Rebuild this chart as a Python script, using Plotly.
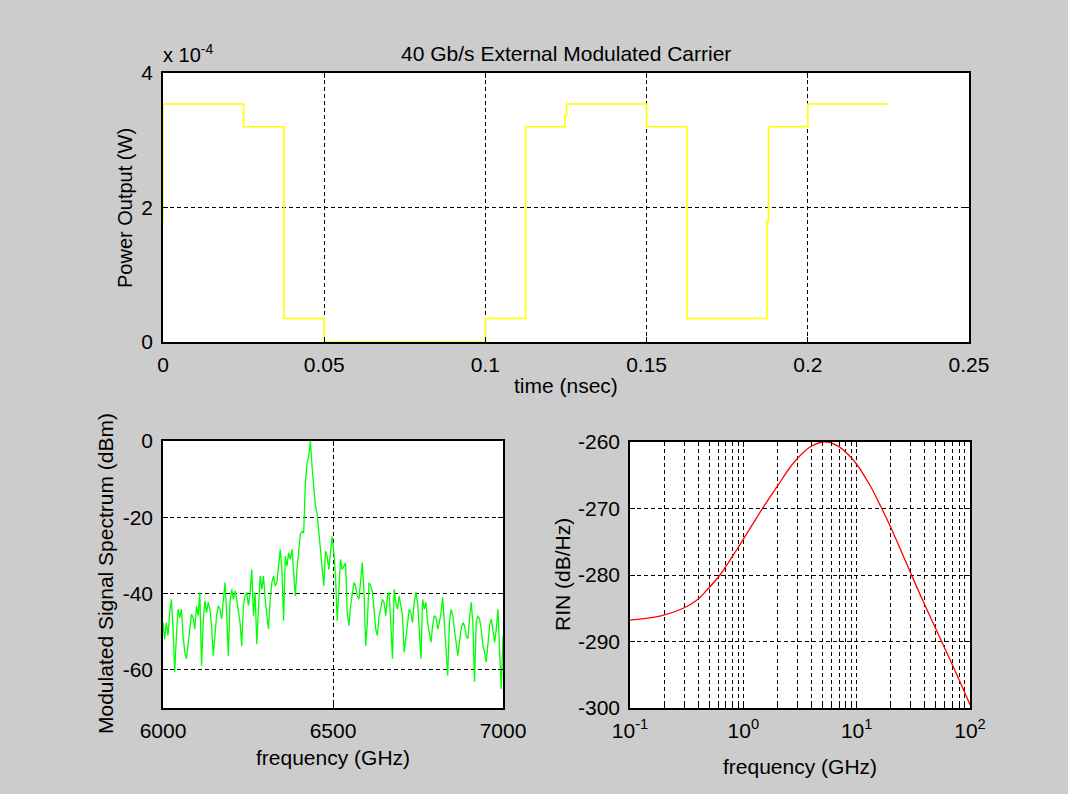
import numpy as np
import plotly.graph_objects as go

W, H = 1078, 803

# ---------------- data ----------------
# top panel: modulated carrier power (stairs), time in ns, power in W
time_ns = [0, 0, 0.025, 0.0375, 0.05, 0.1, 0.1125, 0.1247, 0.1252, 0.15,
           0.1625, 0.1873, 0.1878, 0.2, 0.225]
power_w = [1.77e-4, 3.54e-4, 3.20e-4, 0.35e-4, 0.0, 0.35e-4, 3.20e-4, 3.37e-4,
           3.54e-4, 3.20e-4, 0.35e-4, 1.79e-4, 3.20e-4, 3.54e-4, 3.54e-4]

# bottom-left: modulated signal spectrum (dBm), 6000..7000 GHz
spectrum_dbm = [
    -47.6, -51.9, -47.6, -51.0, -45.0, -41.5, -49.3, -60.6, -51.0, -44.1,
    -46.3, -44.1, -51.0, -55.4, -57.1, -52.8, -49.3, -45.4, -46.3, -49.3,
    -43.2, -45.8, -39.7, -58.9, -47.6, -41.9, -45.0, -42.3, -44.1, -48.4,
    -56.3, -51.0, -45.8, -43.2, -44.1, -46.7, -40.6, -37.1, -45.0, -56.3,
    -42.3, -38.9, -41.5, -39.3, -41.5, -44.1, -47.6, -53.7, -43.2, -40.6,
    -39.7, -43.2, -39.7, -33.7, -45.8, -39.7, -53.2, -44.1, -35.4, -38.9,
    -35.4, -41.5, -45.8, -49.3, -41.5, -37.1, -35.4, -38.0, -37.1, -31.9,
    -28.4, -33.7, -47.1, -30.2, -32.8, -29.3, -31.0, -28.4, -33.7, -40.6,
    -33.7, -28.4, -24.5, -23.7, -24.1, -11.0, -5.8, -4.1, 0.0, -6.7,
    -12.8, -17.1, -18.9, -23.2, -27.6, -33.7, -38.0, -28.9, -30.2, -33.7,
    -29.3,
    -25.0, -29.3, -35.4, -47.1, -39.7, -31.0, -33.7, -32.8, -31.9, -45.0,
    -48.4, -43.2, -40.6, -37.1, -38.0, -40.6, -41.5, -36.3, -31.9, -39.7,
    -53.7, -47.6, -37.1, -38.0, -39.7, -44.1, -49.3, -51.0, -45.8, -44.1,
    -41.5, -42.3, -45.8, -40.6, -39.7, -47.6, -57.1, -38.9, -42.3, -44.1,
    -40.6, -43.2, -45.8, -55.4, -51.0, -48.4, -44.1, -45.0, -47.6, -42.3,
    -39.7,
    -42.3, -51.0, -57.1, -41.5, -44.1, -42.3, -47.6, -50.2, -52.8, -48.4,
    -45.8, -46.3, -49.3, -47.6, -45.0, -41.0, -47.6, -54.5, -61.5, -47.6,
    -44.1, -45.8, -48.9, -52.8, -56.3, -52.8, -49.3, -47.6, -48.4, -51.0,
    -51.9, -46.7, -42.3, -47.6, -63.2, -47.6, -45.8, -46.7, -49.3, -53.7,
    -55.4, -58.0, -52.8, -48.4, -46.7, -49.3, -52.8, -49.3, -44.1, -55.4,
    -65.0, -51.0,
]
spectrum_f_start, spectrum_f_stop = 6000, 7000
spectrum_ghz = np.linspace(spectrum_f_start, spectrum_f_stop, len(spectrum_dbm))

# bottom-right: RIN (dB/Hz) vs frequency (GHz)
rin_ghz = [0.1, 0.184, 0.295, 0.388, 0.475, 0.622, 0.874, 1.225, 1.5, 1.97,
           2.76, 3.85, 5.08, 6.67, 9.34, 13.1, 16.1, 19.7, 29.6, 38.7,
           56.2, 71.2, 100]
rin_db = [-286.8, -286.2, -285.0, -283.8, -282.3, -280.0, -276.2, -272.2,
          -269.8, -266.8, -263.2, -260.8, -260.0, -260.5, -262.7, -266.5,
          -269.5, -272.6, -279.5, -284.0, -290.0, -293.8, -299.5]

top_xticks = [0, 0.05, 0.1, 0.15, 0.2, 0.25]
top_xticktext = ["0", "0.05", "0.1", "0.15", "0.2", "0.25"]
top_yticks = [0, 2e-4, 4e-4]
top_yticktext = ["0", "2", "4"]
spec_xticks = [6000, 6500, 7000]
spec_yticks = [-60, -40, -20, 0]
spec_yticktext = ["-60", "-40", "-20", "0"]
rin_yticks = [-300, -290, -280, -270, -260]
rin_yticktext = ["-300", "-290", "-280", "-270", "-260"]
log_ticks = [0.1, 1, 10, 100]
log_ticktext = ["10<sup>-1</sup>", "10<sup>0</sup>", "10<sup>1</sup>", "10<sup>2</sup>"]
log_minor = [m * d for d in (0.1, 1, 10) for m in range(2, 10)]

# ---------------- figure ----------------
FONT = "Liberation Sans, Arial, sans-serif"
BG = "#cccccc"
TICK_SIZE = 21
DASH = "4px,3px"


def px_x(px):
    return px / W


def px_y(py):
    return 1 - py / H


fig = go.Figure()
fig.add_trace(go.Scatter(x=time_ns, y=power_w, mode="lines", line_shape="hv",
                         line=dict(color="#ffff00", width=1.6),
                         xaxis="x", yaxis="y", showlegend=False))
fig.add_trace(go.Scatter(x=spectrum_ghz, y=spectrum_dbm, mode="lines",
                         line=dict(color="#00ff00", width=1.3),
                         xaxis="x2", yaxis="y2", showlegend=False))
fig.add_trace(go.Scatter(x=rin_ghz, y=rin_db, mode="lines", line_shape="spline",
                         line=dict(color="#ff0000", width=1.3),
                         xaxis="x3", yaxis="y3", showlegend=False))

GRID = dict(showgrid=True, gridcolor="black", griddash=DASH, gridwidth=1,
            zeroline=False, showline=True, linecolor="black", linewidth=1.5,
            mirror="ticks", ticks="inside", ticklen=5, tickcolor="black",
            tickfont=dict(family=FONT, size=TICK_SIZE, color="black"))

fig.update_layout(
    width=W, height=H,
    margin=dict(l=0, r=0, t=0, b=0, pad=0, autoexpand=False),
    paper_bgcolor=BG, plot_bgcolor="white",
    font=dict(family=FONT, size=20, color="black"),
    showlegend=False,
    xaxis=dict(domain=[px_x(163), px_x(969)], range=[0, 0.25], anchor="y",
               tickmode="array", tickvals=top_xticks, ticktext=top_xticktext,
               ticklabelstandoff=3, automargin=False, **GRID),
    yaxis=dict(domain=[px_y(342), px_y(73)], range=[0, 4e-4], anchor="x",
               tickmode="array", tickvals=top_yticks, ticktext=top_yticktext,
               ticklabelstandoff=4, automargin=False, **GRID),
    xaxis2=dict(domain=[px_x(163), px_x(503)], range=[6000, 7000], anchor="y2",
                tickmode="array", tickvals=spec_xticks,
                ticklabelstandoff=3, automargin=False, **GRID),
    yaxis2=dict(domain=[px_y(708), px_y(441)], range=[-70, 0], anchor="x2",
                tickmode="array", tickvals=spec_yticks, ticktext=spec_yticktext,
                ticklabelstandoff=4, automargin=False, **GRID),
    xaxis3=dict(domain=[px_x(630), px_x(970)], type="log", range=[-1, 2],
                anchor="y3", tickmode="array", tickvals=log_ticks,
                ticktext=log_ticktext, ticklabelstandoff=3, automargin=False,
                minor=dict(tickmode="array", tickvals=log_minor, showgrid=True,
                           gridcolor="black", griddash=DASH, gridwidth=1,
                           ticks="inside", ticklen=3, tickcolor="black"),
                **GRID),
    yaxis3=dict(domain=[px_y(708), px_y(442)], range=[-300, -260], anchor="x3",
                tickmode="array", tickvals=rin_yticks, ticktext=rin_yticktext,
                ticklabelstandoff=4, automargin=False, **GRID),
)

# white strips outside the grey figure window
fig.add_shape(type="rect", xref="paper", yref="paper", x0=px_x(1068), x1=1,
              y0=0, y1=1, fillcolor="white", line_width=0, layer="below")
fig.add_shape(type="rect", xref="paper", yref="paper", x0=0, x1=1,
              y0=0, y1=px_y(794), fillcolor="white", line_width=0, layer="below")

ann = [
    dict(text="40 Gb/s External Modulated Carrier", x=px_x(566), y=px_y(53), size=21),
    dict(text="time (nsec)", x=px_x(566), y=px_y(386), size=21),
    dict(text="Power Output (W)", x=px_x(125), y=px_y(208), textangle=-90, size=20),
    dict(text="frequency (GHz)", x=px_x(333), y=px_y(757), size=21),
    dict(text="Modulated Signal Spectrum (dBm)", x=px_x(105), y=px_y(574), textangle=-90, size=21),
    dict(text="frequency (GHz)", x=px_x(800), y=px_y(766), size=21),
    dict(text="RIN (dB/Hz)", x=px_x(562), y=px_y(575), textangle=-90, size=21),
]
for a in ann:
    size = a.pop("size")
    fig.add_annotation(xref="paper", yref="paper", showarrow=False,
                       xanchor="center", yanchor="middle",
                       font=dict(family=FONT, size=size, color="black"), **a)
fig.add_annotation(xref="paper", yref="paper", showarrow=False,
                   text="x 10<sup>-4</sup>", x=px_x(161), y=px_y(53),
                   xanchor="left", yanchor="middle",
                   font=dict(family=FONT, size=20, color="black"))

fig.write_html("out.html")
